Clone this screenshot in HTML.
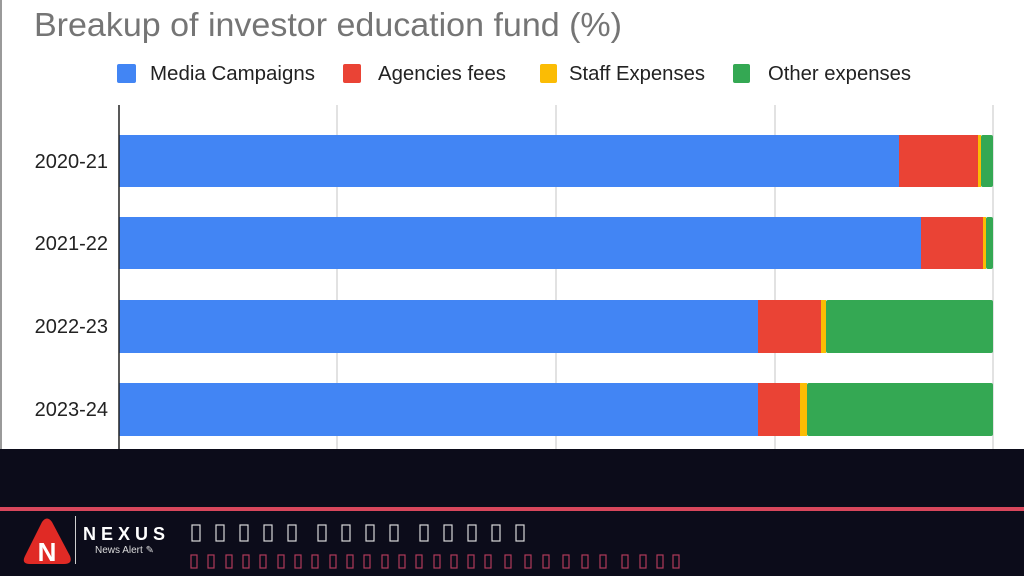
<!DOCTYPE html>
<html><head><meta charset="utf-8"><style>
html,body{margin:0;padding:0;width:1024px;height:576px;overflow:hidden;background:#fff}
svg{display:block}
text{font-family:"Liberation Sans",Arial,sans-serif}
</style></head><body>
<svg width="1024" height="576" viewBox="0 0 1024 576">
<rect x="0" y="0" width="1024" height="450" fill="#fff"/>
<rect x="0" y="0" width="2" height="450" fill="#9a9a9a"/>
<text x="34" y="36" font-size="33" fill="#757575" textLength="588" lengthAdjust="spacingAndGlyphs">Breakup of investor education fund (%)</text>
<!-- legend -->
<rect x="117" y="64" width="19" height="19" rx="2" fill="#4285f4"/>
<text x="150" y="80" font-size="20" fill="#222" textLength="165" lengthAdjust="spacingAndGlyphs">Media Campaigns</text>
<rect x="343" y="64" width="18" height="19" rx="2" fill="#ea4335"/>
<text x="378" y="80" font-size="20" fill="#222" textLength="128" lengthAdjust="spacingAndGlyphs">Agencies fees</text>
<rect x="540" y="64" width="17" height="19" rx="2" fill="#fbbc04"/>
<text x="569" y="80" font-size="20" fill="#222" textLength="136" lengthAdjust="spacingAndGlyphs">Staff Expenses</text>
<rect x="733" y="64" width="17" height="19" rx="2" fill="#34a853"/>
<text x="768" y="80" font-size="20" fill="#222" textLength="143" lengthAdjust="spacingAndGlyphs">Other expenses</text>
<!-- grid -->
<g stroke="#cfcfcf" stroke-width="1.2">
<line x1="337" y1="105" x2="337" y2="450"/>
<line x1="556" y1="105" x2="556" y2="450"/>
<line x1="775" y1="105" x2="775" y2="450"/>
<line x1="993" y1="105" x2="993" y2="450"/>
</g>
<!-- bars -->
<g>
<rect x="119" y="135" width="780" height="52" fill="#4285f4"/>
<rect x="899" y="135" width="79" height="52" fill="#ea4335"/>
<rect x="978" y="135" width="3" height="52" fill="#fbbc04"/>
<rect x="981" y="135" width="12" height="52" rx="2" fill="#34a853"/>

<rect x="119" y="217" width="802" height="52" fill="#4285f4"/>
<rect x="921" y="217" width="62" height="52" fill="#ea4335"/>
<rect x="983" y="217" width="3" height="52" fill="#fbbc04"/>
<rect x="986" y="217" width="7" height="52" rx="2" fill="#34a853"/>

<rect x="119" y="300" width="639" height="53" fill="#4285f4"/>
<rect x="758" y="300" width="63" height="53" fill="#ea4335"/>
<rect x="821" y="300" width="5" height="53" fill="#fbbc04"/>
<rect x="826" y="300" width="167" height="53" rx="2" fill="#34a853"/>

<rect x="119" y="383" width="639" height="53" fill="#4285f4"/>
<rect x="758" y="383" width="42" height="53" fill="#ea4335"/>
<rect x="800" y="383" width="7" height="53" fill="#fbbc04"/>
<rect x="807" y="383" width="186" height="53" rx="2" fill="#34a853"/>
</g>
<line x1="119" y1="105" x2="119" y2="450" stroke="#222" stroke-width="1.5"/>
<g font-size="20" fill="#222" text-anchor="end">
<text x="108" y="168">2020-21</text>
<text x="108" y="250">2021-22</text>
<text x="108" y="333">2022-23</text>
<text x="108" y="416">2023-24</text>
</g>
<!-- footer -->
<rect x="0" y="449" width="1024" height="127" fill="#0c0c1a"/>
<rect x="0" y="507" width="1024" height="4" fill="#d9475c"/>
<path d="M42 522 Q47 515 52 522 L70 556 Q73 564 64 564 L30 564 Q21 564 25 556 Z" fill="#e02a25"/>
<text x="47" y="561" font-size="26" font-weight="bold" fill="#fff" text-anchor="middle">N</text>
<rect x="75" y="516" width="1" height="48" fill="#cfcfcf"/>
<text x="83" y="540" font-size="18" font-weight="bold" fill="#fff" letter-spacing="5">NEXUS</text>
<text x="95" y="553" font-size="10" fill="#ddd">News Alert ✎</text>
<g fill="none" stroke="#d8d8d8" stroke-width="1.2">
<rect x="192" y="525" width="8" height="16"/><rect x="216" y="525" width="8" height="16"/><rect x="240" y="525" width="8" height="16"/><rect x="264" y="525" width="8" height="16"/><rect x="288" y="525" width="8" height="16"/>
<rect x="318" y="525" width="8" height="16"/><rect x="342" y="525" width="8" height="16"/><rect x="366" y="525" width="8" height="16"/><rect x="390" y="525" width="8" height="16"/>
<rect x="420" y="525" width="8" height="16"/><rect x="444" y="525" width="8" height="16"/><rect x="468" y="525" width="8" height="16"/><rect x="492" y="525" width="8" height="16"/><rect x="516" y="525" width="8" height="16"/>
</g>
<g fill="none" stroke="#b03a5a" stroke-width="1.2">
<rect x="191" y="555" width="6" height="13"/><rect x="208" y="555" width="6" height="13"/><rect x="226" y="555" width="6" height="13"/><rect x="243" y="555" width="6" height="13"/><rect x="260" y="555" width="6" height="13"/><rect x="278" y="555" width="6" height="13"/><rect x="295" y="555" width="6" height="13"/><rect x="312" y="555" width="6" height="13"/><rect x="330" y="555" width="6" height="13"/><rect x="347" y="555" width="6" height="13"/><rect x="364" y="555" width="6" height="13"/><rect x="382" y="555" width="6" height="13"/><rect x="399" y="555" width="6" height="13"/><rect x="416" y="555" width="6" height="13"/><rect x="434" y="555" width="6" height="13"/><rect x="451" y="555" width="6" height="13"/><rect x="468" y="555" width="6" height="13"/><rect x="485" y="555" width="6" height="13"/>
<rect x="505" y="555" width="6" height="13"/>
<rect x="525" y="555" width="6" height="13"/><rect x="543" y="555" width="6" height="13"/>
<rect x="563" y="555" width="6" height="13"/><rect x="582" y="555" width="6" height="13"/><rect x="600" y="555" width="6" height="13"/>
<rect x="622" y="555" width="6" height="13"/><rect x="640" y="555" width="6" height="13"/><rect x="657" y="555" width="6" height="13"/><rect x="673" y="555" width="6" height="13"/>
</g>
</svg>
</body></html>
